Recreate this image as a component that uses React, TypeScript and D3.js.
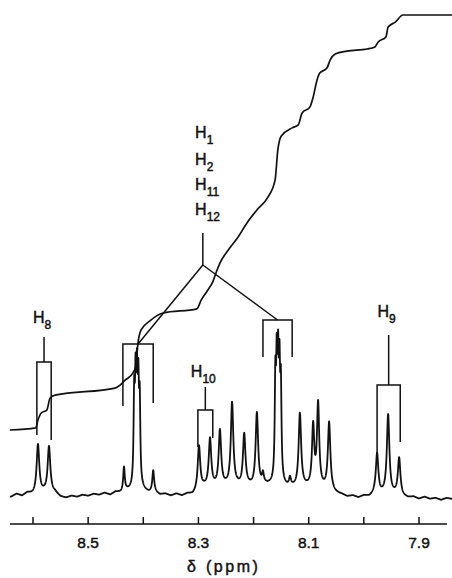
import React from "react";
import * as d3 from "d3";

// ---- Data ----
// Peak list: chemical shift (ppm), height (intensity units), half-width (ppm)
const peakPpm = [8.591, 8.571, 8.435, 8.4165, 8.414, 8.4115, 8.409, 8.4065, 8.382, 8.299, 8.279, 8.261, 8.239, 8.217, 8.194, 8.183, 8.1605, 8.158, 8.1555, 8.153, 8.1505, 8.134, 8.116, 8.092, 8.083, 8.063, 7.976, 7.956, 7.936];
const peakHeight = [25, 23.5, 12, 43, 46, 47, 44, 40, 10.5, 22, 24, 28, 42, 26, 37, 5, 48, 51, 51, 48, 44, 4, 37, 30, 41, 34, 20, 39.5, 18.5];
const peakHwhm = [0.0029, 0.0029, 0.0017, 0.0013, 0.0013, 0.0013, 0.0013, 0.0013, 0.0019, 0.0027, 0.0027, 0.0027, 0.0027, 0.0027, 0.0027, 0.0019, 0.0013, 0.0013, 0.0013, 0.0013, 0.0013, 0.0019, 0.0027, 0.0024, 0.0024, 0.0027, 0.0027, 0.0027, 0.0027];

// Baseline (noise) read every 0.01 ppm from 8.64 down to 7.84
const baselineStart = 8.64;
const baselineStep = 0.01;
const baselineValues = [0, 1.5, 0.5, 2, 1, 1, 2, 1.5, 2, 0, -0.5, 0.5, 0, 1, 0.5, 1.5, 1, 2, 1, 2.5, 2, 3, 3, 3, 3, 2, 2.5, 1, 1.5, 0.5, 1.5, 0.5, 1.5, 1, 3, 4.5, 4.5, 4.5, 4.5, 5, 4.5, 5, 4.5, 5, 4.5, 4.5, 5.5, 5.5, 5.5, 5.5, 4.5, 4.5, 4, 4.5, 4.5, 4.5, 4.5, 3.5, 2.5, 1.5, 1, 0, 0.5, -0.5, 0.5, 0, 1.5, 1, 1.5, 1, 1, 0, -0.5, 0, -1, 0, -1, -0.5, -1.5, -0.5, -1];

// Integral trace (ppm, relative integral 0..100)
const integralPpm = [8.642, 8.595, 8.591, 8.585, 8.575, 8.569, 8.56, 8.451, 8.442, 8.433, 8.419, 8.413, 8.41, 8.404, 8.388, 8.364, 8.303, 8.295, 8.284, 8.274, 8.266, 8.261, 8.243, 8.228, 8.212, 8.194, 8.174, 8.161, 8.156, 8.15, 8.13, 8.119, 8.112, 8.098, 8.092, 8.085, 8.08, 8.067, 8.061, 8.052, 8.031, 7.994, 7.98, 7.974, 7.96, 7.956, 7.943, 7.929, 7.84];
const integralValue = [0, 0.5, 2.4, 4.1, 4.8, 7.7, 8.4, 10.1, 10.8, 12.0, 13.7, 15.7, 20.5, 24.1, 26.3, 28.2, 29.2, 31.3, 33.5, 35.7, 38.6, 40.2, 43.9, 46.5, 49.9, 53.0, 56.1, 60.2, 67.5, 70.8, 72.8, 73.5, 76.4, 77.8, 80.2, 84.3, 86.0, 87.2, 89.2, 90.6, 91.3, 91.8, 92.3, 93.5, 94.7, 97.1, 98.3, 100, 100];

// Axis
const tickValues = [8.6, 8.5, 8.4, 8.3, 8.2, 8.1, 8.0, 7.9];
const tickLabelValues = [8.5, 8.3, 8.1, 7.9];
const tickLabels = ["8.5", "8.3", "8.1", "7.9"];
const axisTitleSymbol = "δ";
const axisTitleUnit = "(ppm)";

// Simple bracket assignments
const simpleNames = ["H", "H", "H"];
const simpleSubs = ["8", "10", "9"];
const simpleLegs = [[8.593, 8.567], [8.301, 8.274], [7.976, 7.934]];
const simpleLegBottoms = [[31, 28.5], [25, 29.5], [22, 27.5]];
const simpleTops = [67.5, 43.5, 56];
const simpleStemTops = [80, 55, 81];
const simpleLabelLevels = [87, 60, 90];

// Group assignment H1, H2, H11, H12
const groupSubs = ["1", "2", "11", "12"];
const groupLabelPpm = 8.306;
const groupLabelLevels = [179.5, 166, 153.5, 141];
const groupApexPpm = 8.292;
const groupApexLevel = 116;
const groupStemTop = 132;
const groupBoxLegs = [[8.437, 8.382], [8.183, 8.13]];
const groupBoxLegBottoms = [[45.5, 47], [70, 70]];
const groupBoxTops = [76.5, 88.5];

export default function App() {
  const width = 452;
  const height = 578;
  const x = d3.scaleLinear().domain([8.6, 7.9]).range([33, 419]);
  const ySpec = d3.scaleLinear().domain([0, 100]).range([497, 297]);
  const yInt = d3.scaleLinear().domain([0, 100]).range([430, 15]);

  const baseAt = (p: number) => {
    const f = (baselineStart - p) / baselineStep;
    const i = Math.max(0, Math.min(baselineValues.length - 2, Math.floor(f)));
    const t = Math.max(0, Math.min(1, f - i));
    return baselineValues[i] * (1 - t) + baselineValues[i + 1] * t;
  };

  const specPts: [number, number][] = [];
  for (let p = 8.642; p >= 7.84; p -= 0.0003) {
    let v = baseAt(p);
    for (let k = 0; k < peakPpm.length; k++) {
      const d = (p - peakPpm[k]) / peakHwhm[k];
      v += peakHeight[k] / (1 + d * d);
    }
    specPts.push([p, v]);
  }
  const specLine = d3
    .line<[number, number]>()
    .x((d) => x(d[0]))
    .y((d) => ySpec(d[1]));

  const intPts: [number, number][] = integralPpm.map((p, i) => [p, integralValue[i]]);
  const intLine = d3
    .line<[number, number]>()
    .x((d) => x(d[0]))
    .y((d) => yInt(d[1]))
    .curve(d3.curveMonotoneX);

  const font = "'Liberation Sans', Arial, Helvetica, sans-serif";
  const stroke = "#111";
  const axisY = 524;
  const textStroke = { stroke: stroke, strokeWidth: 0.45 };

  const bracketPath = (legs: number[], bottoms: number[], top: number) =>
    `M${x(legs[0])},${ySpec(bottoms[0])}V${ySpec(top)}H${x(legs[1])}V${ySpec(bottoms[1])}`;

  return (
    <svg
      width={width}
      height={height}
      style={{ position: "absolute", left: 0, top: 0, background: "#fff" }}
    >
      <rect width={width} height={height} fill="#fff" />
      {/* spectrum */}
      <path d={specLine(specPts) || ""} fill="none" stroke={stroke} strokeWidth={1.8} strokeLinejoin="round" />
      {/* integral */}
      <path d={intLine(intPts) || ""} fill="none" stroke={stroke} strokeWidth={1.7} />

      {/* simple brackets */}
      {simpleSubs.map((s, i) => {
        const c = (x(simpleLegs[i][0]) + x(simpleLegs[i][1])) / 2;
        return (
          <g key={"s" + i}>
            <path d={bracketPath(simpleLegs[i], simpleLegBottoms[i], simpleTops[i])} fill="none" stroke={stroke} strokeWidth={1.5} />
            <line x1={c} x2={c} y1={ySpec(simpleTops[i])} y2={ySpec(simpleStemTops[i])} stroke={stroke} strokeWidth={1.5} />
            <text x={c - 2} y={ySpec(simpleLabelLevels[i])} textAnchor="middle" fontFamily={font} fontSize={16} fill={stroke} {...textStroke}>
              <tspan>{simpleNames[i]}</tspan>
              <tspan dy={6} fontSize={12}>{s}</tspan>
            </text>
          </g>
        );
      })}

      {/* group bracket */}
      {groupBoxLegs.map((legs, i) => {
        const c = (x(legs[0]) + x(legs[1])) / 2;
        return (
          <g key={"g" + i}>
            <path d={bracketPath(legs, groupBoxLegBottoms[i], groupBoxTops[i])} fill="none" stroke={stroke} strokeWidth={1.5} />
            <line x1={x(groupApexPpm)} y1={ySpec(groupApexLevel)} x2={c} y2={ySpec(groupBoxTops[i])} stroke={stroke} strokeWidth={1.5} />
          </g>
        );
      })}
      <line x1={x(groupApexPpm)} x2={x(groupApexPpm)} y1={ySpec(groupApexLevel)} y2={ySpec(groupStemTop)} stroke={stroke} strokeWidth={1.5} />
      {groupSubs.map((s, i) => (
        <text key={"gl" + i} x={x(groupLabelPpm)} y={ySpec(groupLabelLevels[i])} fontFamily={font} fontSize={16} fill={stroke} {...textStroke}>
          <tspan>H</tspan>
          <tspan dy={6} fontSize={12}>{s}</tspan>
        </text>
      ))}

      {/* axis */}
      <line x1={10} x2={447} y1={axisY} y2={axisY} stroke={stroke} strokeWidth={1.7} />
      {tickValues.map((t) => (
        <line key={"t" + t} x1={x(t)} x2={x(t)} y1={axisY} y2={axisY - 7} stroke={stroke} strokeWidth={1.5} />
      ))}
      {tickLabelValues.map((t, i) => (
        <text key={"tl" + t} x={x(t)} y={548} textAnchor="middle" fontFamily={font} fontSize={15.5} fill={stroke} {...textStroke}>
          {tickLabels[i]}
        </text>
      ))}
      <text y={572} fontFamily={font} fontSize={16} fill={stroke} {...textStroke}>
        <tspan x={187}>{axisTitleSymbol}</tspan>
        <tspan x={206} letterSpacing={2.5}>{axisTitleUnit}</tspan>
      </text>
    </svg>
  );
}
